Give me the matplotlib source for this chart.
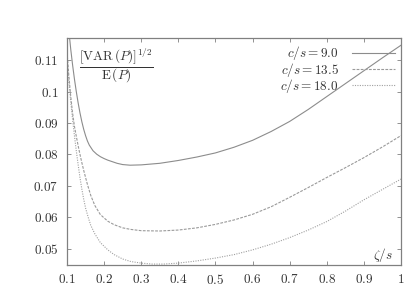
import matplotlib
matplotlib.use("Agg")
import matplotlib.pyplot as plt

plt.rcParams['mathtext.fontset'] = 'cm'
plt.rcParams['font.family'] = ['DejaVu Serif']

# c/s = 9.0
x_a = [0.107, 0.11, 0.115, 0.12, 0.125, 0.13, 0.135, 0.14, 0.145, 0.15, 0.155, 0.16, 0.17,
       0.18, 0.19, 0.2, 0.21, 0.22, 0.235, 0.25, 0.27, 0.3, 0.35, 0.4,
       0.45, 0.5, 0.55, 0.6, 0.65, 0.7, 0.75, 0.8, 0.85, 0.9, 0.95, 1.0]
y_a = [0.117, 0.1135, 0.1085, 0.1040, 0.1000, 0.0964, 0.0932, 0.0904, 0.0880, 0.0860, 0.0843,
       0.0830, 0.0812, 0.0801, 0.0793, 0.0787, 0.0782, 0.0778, 0.0772, 0.0768, 0.0766, 0.0767,
       0.0772, 0.0781, 0.0792, 0.0805, 0.0823, 0.0845, 0.0873, 0.0905, 0.0943, 0.0984,
       0.1025, 0.1066, 0.1107, 0.1147]
# c/s = 13.5
x_b = [0.1, 0.105, 0.11, 0.115, 0.12, 0.125, 0.13, 0.135, 0.14, 0.146, 0.155, 0.164, 0.175,
       0.19, 0.21, 0.227, 0.25, 0.272, 0.3, 0.35, 0.4, 0.45, 0.5, 0.55, 0.6, 0.65, 0.7, 0.75,
       0.8, 0.85, 0.9, 0.95, 1.0]
y_b = [0.1125, 0.1050, 0.0985, 0.0932, 0.0890, 0.0858, 0.0828, 0.0800, 0.0774, 0.0745, 0.0705,
       0.0670, 0.0638, 0.0609, 0.0588, 0.0577, 0.0567, 0.0562, 0.0558, 0.0557, 0.0560, 0.0567,
       0.0578, 0.0592, 0.0610, 0.0634, 0.0664, 0.0695, 0.0727, 0.0758, 0.0790, 0.0824, 0.0860]
# c/s = 18.0
x_c = [0.1, 0.105, 0.11, 0.115, 0.12, 0.125, 0.13, 0.135, 0.14, 0.145, 0.15, 0.157, 0.164,
       0.175, 0.19, 0.21, 0.227, 0.25, 0.272, 0.3, 0.33, 0.36, 0.4, 0.45, 0.5, 0.55, 0.6,
       0.65, 0.7, 0.75, 0.8, 0.85, 0.9, 0.95, 1.0]
y_c = [0.1100, 0.1030, 0.0968, 0.0912, 0.0860, 0.0812, 0.0768, 0.0726, 0.0690, 0.0658, 0.0630,
       0.0601, 0.0575, 0.0548, 0.0520, 0.0497, 0.0482, 0.0468, 0.0460, 0.0455, 0.0452, 0.0452,
       0.0455, 0.0462, 0.0471, 0.0482, 0.0497, 0.0515, 0.0536, 0.0560, 0.0587, 0.0620,
       0.0656, 0.0689, 0.0722]

labels = ['$c/s = 9.0$', '$c/s = 13.5$', '$c/s = 18.0$']
xticks = [0.1, 0.2, 0.3, 0.4, 0.5, 0.6, 0.7, 0.8, 0.9, 1.0]
xticklabels = ['0.1', '0.2', '0.3', '0.4', '0.5', '0.6', '0.7', '0.8', '0.9', '1']
yticks = [0.05, 0.06, 0.07, 0.08, 0.09, 0.10, 0.11]
yticklabels = ['0.05', '0.06', '0.07', '0.08', '0.09', '0.1', '0.11']

fig = plt.figure(figsize=(4.15, 2.91), dpi=100)
ax = fig.add_axes([67/415, 1-265/291, (401-67)/415, (265-38)/291])

ax.plot(x_a, y_a, color='#8c8c8c', lw=0.8, ls='-', label=labels[0])
ax.plot(x_b, y_b, color='#9a9a9a', lw=0.8, ls=(0, (2.5, 1.2)), label=labels[1])
ax.plot(x_c, y_c, color='#a0a0a0', lw=0.8, ls=(0, (1, 1.2)), label=labels[2])

ax.set_xlim(0.1, 1.0)
ax.set_ylim(0.0449, 0.117)
ax.set_xticks(xticks)
ax.set_xticklabels(['$%s$' % t for t in xticklabels])
ax.set_yticks(yticks)
ax.set_yticklabels(['$%s$' % t for t in yticklabels])
ax.tick_params(direction='in', length=3.2, width=0.6, color='#808080',
               top=True, right=True, labelsize=9.5, labelcolor='#333333', pad=6)
for sp in ax.spines.values():
    sp.set_color('#808080')
    sp.set_linewidth(0.9)

leg = ax.legend(loc='upper right', bbox_to_anchor=(0.995, 0.99), frameon=False,
                markerfirst=False, fontsize=9.5, handlelength=3.3, handletextpad=1.0,
                labelspacing=-0.12, borderaxespad=0.2, borderpad=0.1)
for t in leg.get_texts():
    t.set_color('#333333')

ax.text(0.149, 0.877, r'$\dfrac{[\mathrm{VAR}\,(P)]^{1/2}}{\mathrm{E}\,(P)}$',
        transform=ax.transAxes, ha='center', va='center', fontsize=9.5, color='#333333')
ax.text(0.976, 0.045, r'$\zeta/s$', transform=ax.transAxes, ha='right', va='center',
        fontsize=9.5, color='#333333')

fig.savefig('out.png', dpi=100)
